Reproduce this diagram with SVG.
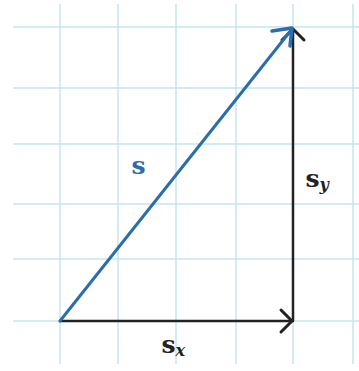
<svg xmlns="http://www.w3.org/2000/svg" width="359" height="371" viewBox="0 0 359 371">
<style>
.grid line{stroke:#c4e4ee;stroke-width:1.5}
.lbl{font-family:"DejaVu Serif","Liberation Serif",serif;font-weight:bold;font-size:25px}
.sub{font-style:italic;font-size:16px}
</style>
<rect width="359" height="371" fill="#fff"/>
<g class="grid">
<line x1="60" y1="4" x2="60" y2="364"/>
<line x1="118" y1="4" x2="118" y2="364"/>
<line x1="176" y1="4" x2="176" y2="364"/>
<line x1="236" y1="4" x2="236" y2="364"/>
<line x1="293" y1="4" x2="293" y2="364"/>
<line x1="353" y1="4" x2="353" y2="364"/>
<line x1="13" y1="27" x2="359" y2="27"/>
<line x1="13" y1="88" x2="359" y2="88"/>
<line x1="13" y1="144" x2="359" y2="144"/>
<line x1="13" y1="204" x2="359" y2="204"/>
<line x1="13" y1="259" x2="359" y2="259"/>
<line x1="13" y1="321" x2="359" y2="321"/>
</g>
<g id="connectors" fill="none" stroke-linecap="round" stroke-linejoin="round">
<g id="sx" stroke="#222">
<line x1="60" y1="321" x2="292" y2="321" stroke-width="2.5"/>
<polyline points="281,310 292,321 281,332" stroke-width="3"/>
</g>
<g id="sy" stroke="#222">
<line x1="293" y1="321" x2="293" y2="29" stroke-width="2.5"/>
<polyline points="282,40 293,29 304,40" stroke-width="3"/>
</g>
<g id="s" stroke="#2b6ead">
<line x1="60" y1="321" x2="292" y2="29" stroke-width="3"/>
<polyline points="272,31 292,28 290,46" stroke-width="3.5"/>
</g>
</g>
<g id="labels">
<text class="lbl" x="131.5" y="174" fill="#2b6ead">s</text>
<text class="lbl" x="305.5" y="187" fill="#222">s<tspan class="sub" dy="3">y</tspan></text>
<text class="lbl" x="161.5" y="353" fill="#222">s<tspan class="sub" dy="3">x</tspan></text>
</g>
</svg>
